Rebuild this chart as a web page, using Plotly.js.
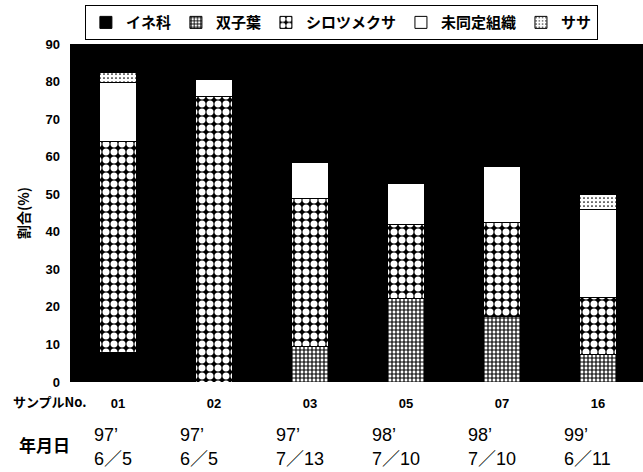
<!DOCTYPE html>
<html>
<head>
<meta charset="utf-8">
<script src="https://cdn.plot.ly/plotly-3.0.1.min.js"></script>
<style>
  html, body { margin: 0; padding: 0; background: #ffffff; }
  #chart { width: 643px; height: 472px; }
</style>
</head>
<body>
<div id="chart"></div>
<script>
// Sample numbers and sampling dates
const samples = ['01', '02', '03', '05', '07', '16'];
const years = ['97’', '97’', '97’', '98’', '98’', '99’'];
const days = ['6／5', '6／5', '7／13', '7／10', '7／10', '6／11'];

// Composition (%) per sample, stacked bottom to top
const ineka = [7.8, 0, 0, 0, 0, 0];            // イネ科
const soshiyo = [0, 0, 9.5, 22.2, 17.4, 7.3];   // 双子葉
const shirotsume = [56.2, 76.1, 39.3, 19.8, 25.2, 15.1]; // シロツメクサ
const midotei = [15.8, 4.4, 9.6, 10.8, 14.9, 23.5];      // 未同定組織
const sasa = [2.7, 0, 0, 0, 0, 3.9];            // ササ

const yTicks = [0, 10, 20, 30, 40, 50, 60, 70, 80, 90];

const JP = '"Noto Sans CJK JP", "Liberation Sans", sans-serif';
const NUM = '"Liberation Sans", Arial, sans-serif';
const NUM_JP = '"Liberation Sans", "Noto Sans CJK JP", sans-serif';

function barTrace(name, values, pattern) {
  return {
    type: 'bar',
    name: name,
    x: samples,
    y: values,
    marker: {
      color: pattern.bgcolor,
      line: { color: '#000000', width: 1 },
      pattern: pattern
    },
    hoverinfo: 'x+y+name'
  };
}

const traces = [
  barTrace('イネ科', ineka, { shape: '', bgcolor: '#000000', fgcolor: '#000000' }),
  barTrace('双子葉', soshiyo, { shape: '+', bgcolor: '#ffffff', fgcolor: '#000000', size: 4, solidity: 0.5 }),
  barTrace('シロツメクサ', shirotsume, { shape: '.', bgcolor: '#000000', fgcolor: '#ffffff', size: 8, solidity: 0.6 }),
  barTrace('未同定組織', midotei, { shape: '', bgcolor: '#ffffff', fgcolor: '#ffffff' }),
  barTrace('ササ', sasa, { shape: '.', bgcolor: '#ffffff', fgcolor: '#000000', size: 4, solidity: 0.15 })
];

// Date labels under each sample (x given as category index): year row, then month/day row
function dateRow(texts, yPos) {
  return texts.map((t, i) => ({
    xref: 'x', yref: 'paper',
    x: i, y: yPos,
    xanchor: 'left', yanchor: 'middle', align: 'left',
    xshift: i === 0 ? -25 : -35,
    borderpad: 0,
    text: t,
    showarrow: false,
    font: { family: NUM_JP, size: 18, color: '#000000' }
  }));
}

const annotations = dateRow(years, -0.157).concat(dateRow(days, -0.228));

annotations.push({
  xref: 'paper', yref: 'paper', x: -0.035, y: -0.059,
  xanchor: 'center', yanchor: 'middle',
  text: '<b>サンプルNo.</b>', showarrow: false,
  font: { family: JP, size: 13, color: '#000000' }
});
annotations.push({
  xref: 'paper', yref: 'paper', x: -0.044, y: -0.186,
  xanchor: 'center', yanchor: 'middle',
  text: '<b>年月日</b>', showarrow: false,
  font: { family: JP, size: 17, color: '#000000' }
});

const layout = {
  width: 643,
  height: 472,
  margin: { l: 70, r: 0, t: 44, b: 90, pad: 0 },
  paper_bgcolor: '#ffffff',
  plot_bgcolor: '#000000',
  barmode: 'stack',
  bargap: 0.61,
  showlegend: true,
  legend: {
    orientation: 'h',
    traceorder: 'normal',
    x: 0.026, y: 1.115,
    xanchor: 'left', yanchor: 'top',
    bgcolor: '#ffffff',
    bordercolor: '#000000',
    borderwidth: 1,
    itemwidth: 30,
    font: { family: JP, size: 15, color: '#000000', weight: 'bold' }
  },
  xaxis: {
    type: 'category',
    range: [-0.5, 5.47],
    showgrid: false,
    zeroline: false,
    showline: false,
    ticks: '',
    ticklabelstandoff: 12,
    tickfont: { family: NUM, size: 13, color: '#000000', weight: 'bold' }
  },
  yaxis: {
    range: [0, 90],
    tickvals: yTicks,
    ticktext: yTicks.map(String),
    showgrid: false,
    zeroline: false,
    showline: false,
    ticks: '',
    ticklabelstandoff: 9,
    tickfont: { family: NUM, size: 13, color: '#000000', weight: 'bold' },
    title: {
      text: '<b>割合(%)</b>',
      standoff: 12,
      font: { family: JP, size: 14, color: '#000000' }
    }
  },
  annotations: annotations
};

Plotly.newPlot('chart', traces, layout, { displayModeBar: false, staticPlot: true });
</script>
</body>
</html>
